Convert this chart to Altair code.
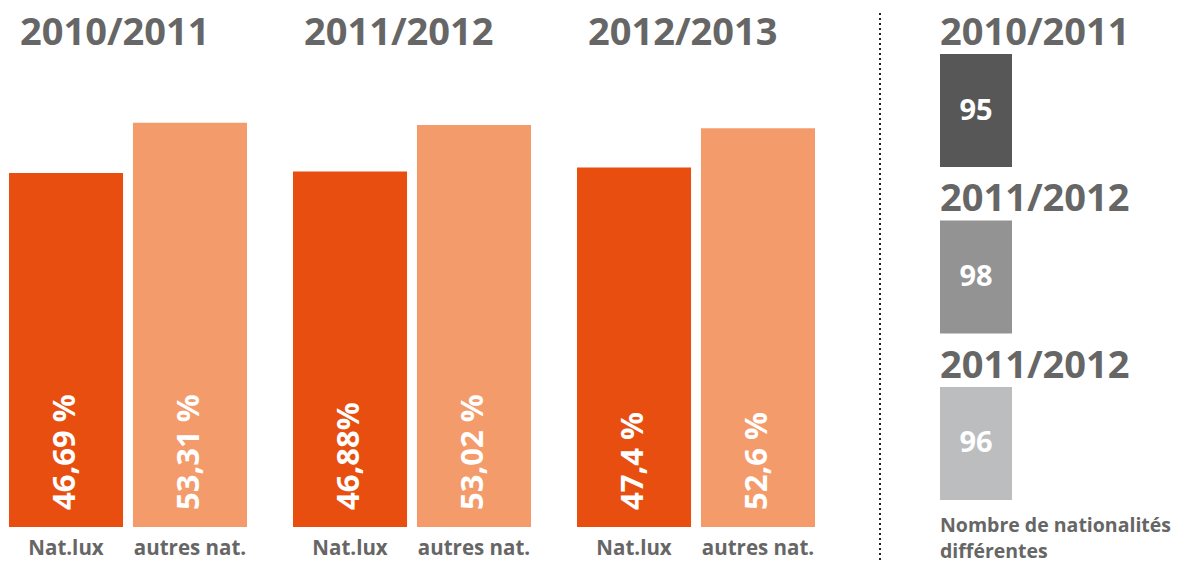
import altair as alt
import pandas as pd

# School years and nationality groups
years = ["2010/2011", "2011/2012", "2012/2013"]
nat_groups = ["Nat.lux", "autres nat."]
share_years = ["2010/2011", "2010/2011", "2011/2012", "2011/2012", "2012/2013", "2012/2013"]
share_groups = ["Nat.lux", "autres nat.", "Nat.lux", "autres nat.", "Nat.lux", "autres nat."]
shares = [46.69, 53.31, 46.88, 53.02, 47.4, 52.6]
share_labels = ["46,69 %", "53,31 %", "46,88%", "53,02 %", "47,4 %", "52,6 %"]

# Number of different nationalities per year (right panel)
panel_keys = ["p1", "p2", "p3"]
panel_titles = ["2010/2011", "2011/2012", "2011/2012"]
panel_counts = [95, 98, 96]
panel_colors = ["#575757", "#939393", "#bcbdbf"]
footer_lines = ["Nombre de nationalités", "différentes"]

FONT = "Open Sans"
GREY = "#666666"

shares_df = pd.DataFrame({
    "year": share_years, "nat": share_groups,
    "value": shares, "label": share_labels,
})
years_df = pd.DataFrame({"year": years})
panel_df = pd.DataFrame({
    "key": panel_keys, "title": panel_titles,
    "count": panel_counts, "color": panel_colors,
})
one_row = pd.DataFrame({"dummy": [0]})

x_scale = alt.Scale(domain=years, range=[9, 815], paddingInner=0.162, paddingOuter=0)
x_year = alt.X("year:N", scale=x_scale, axis=None)
x_off = alt.XOffset("nat:N", scale=alt.Scale(domain=nat_groups,
                                             paddingInner=0.08, paddingOuter=0))
y_share = alt.Y("value:Q",
                scale=alt.Scale(domain=[0, 69.5], range=[527, 0], nice=False, zero=True),
                axis=None)

base = alt.Chart(shares_df)

bars = base.mark_bar().encode(
    x=x_year, xOffset=x_off, y=y_share,
    color=alt.Color("nat:N", scale=alt.Scale(domain=nat_groups,
                                             range=["#e84e0f", "#f49b6b"]),
                    legend=None),
)

bar_labels = base.mark_text(
    angle=270, align="left", baseline="middle", dx=17,
    font=FONT, fontSize=31, fontWeight="bold", color="white",
).encode(x=x_year, xOffset=x_off, y=alt.datum(0), text="label:N")

cat_labels = base.mark_text(
    baseline="middle", font=FONT, fontSize=20.5, fontWeight="bold", color=GREY,
).encode(x=x_year, xOffset=x_off, y=alt.value(549), text="nat:N")

year_titles = alt.Chart(years_df).mark_text(
    align="left", baseline="alphabetic", dx=11,
    font=FONT, fontSize=38, fontWeight="bold", color=GREY,
).encode(
    x=alt.X("year:N", bandPosition=0, scale=x_scale, axis=None),
    y=alt.value(45), text="year:N",
)

left = alt.layer(bars, bar_labels, cat_labels, year_titles)

# Right panel
y_panel_scale = alt.Scale(domain=panel_keys, range=[54, 500],
                          paddingInner=0.321, paddingOuter=0)
pbase = alt.Chart(panel_df)

boxes = pbase.mark_rect().encode(
    y=alt.Y("key:N", scale=y_panel_scale, axis=None),
    x=alt.value(940), x2=alt.value(1012),
    color=alt.Color("color:N", scale=None),
)

panel_title_text = pbase.mark_text(
    align="left", baseline="alphabetic", dy=-9,
    font=FONT, fontSize=38, fontWeight="bold", color=GREY,
).encode(
    y=alt.Y("key:N", bandPosition=0, scale=y_panel_scale, axis=None),
    x=alt.value(940), text="title:N",
)

counts_text = pbase.mark_text(
    align="center", baseline="middle",
    font=FONT, fontSize=29, fontWeight="bold", color="white",
).encode(
    y=alt.Y("key:N", scale=y_panel_scale, axis=None),
    x=alt.value(976), text="count:Q",
)

footer = alt.Chart(one_row).mark_text(
    align="left", baseline="alphabetic", lineHeight=26,
    font=FONT, fontSize=19.5, fontWeight="bold", color=GREY,
).encode(x=alt.value(940), y=alt.value(532), text=alt.value(footer_lines))

separator = alt.Chart(one_row).mark_rule(
    strokeDash=[2, 3], strokeWidth=2, color="#222222",
).encode(x=alt.value(880), y=alt.value(13), y2=alt.value(560))

right = alt.layer(boxes, panel_title_text, counts_text, footer, separator)

chart = alt.layer(left, right).resolve_scale(
    x="independent", y="independent", color="independent",
).properties(
    width=1185, height=563, autosize="none", padding=0, background="white",
).configure_view(stroke=None)

chart.save("out.html", embed_options={"renderer": "svg", "actions": False})
